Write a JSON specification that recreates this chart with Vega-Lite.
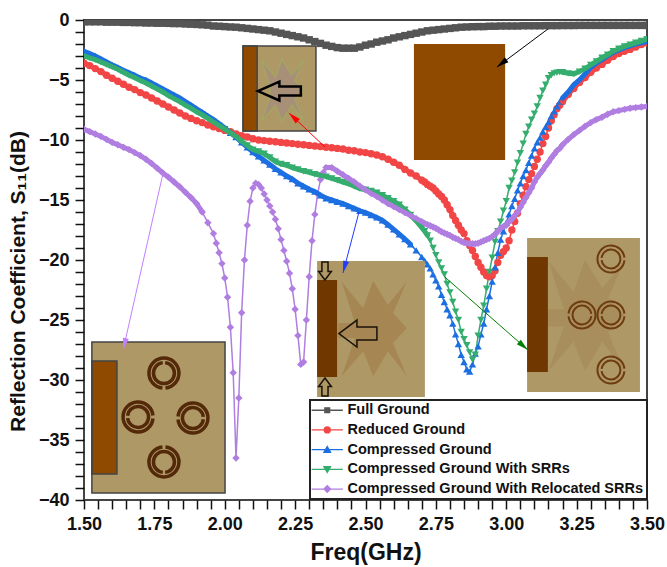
{
"$schema":"https://vega.github.io/schema/vega-lite/v6.json",
"width":563,"height":480,
"autosize":{"type":"none"},
"padding":{"left":84,"top":20,"right":20,"bottom":67},
"background":"white",
"config":{"view":{"stroke":"#444444","strokeWidth":2},"font":"Liberation Sans"},
"datasets":{
"names":[{"k":"A","name":"Full Ground"},{"k":"B","name":"Reduced Ground"},{"k":"C","name":"Compressed Ground"},{"k":"D","name":"Compressed Ground With SRRs"},{"k":"E","name":"Compressed Ground With Relocated SRRs"}],
"curves":[
{"f":1.50,"A":-0.15,"B":-3.6,"C":-2.6,"D":-3.0,"E":-9.1},
{"f":1.52,"A":-0.15,"B":-3.8,"C":-2.8,"D":-3.15,"E":-9.3},
{"f":1.54,"A":-0.15,"B":-4.05,"C":-3.0,"D":-3.3,"E":-9.5},
{"f":1.56,"A":-0.15,"B":-4.3,"C":-3.25,"D":-3.5,"E":-9.7},
{"f":1.58,"A":-0.18,"B":-4.6,"C":-3.5,"D":-3.7,"E":-9.95},
{"f":1.60,"A":-0.18,"B":-4.85,"C":-3.75,"D":-3.9,"E":-10.2},
{"f":1.62,"A":-0.18,"B":-5.1,"C":-3.95,"D":-4.1,"E":-10.4},
{"f":1.64,"A":-0.2,"B":-5.35,"C":-4.2,"D":-4.35,"E":-10.6},
{"f":1.66,"A":-0.2,"B":-5.6,"C":-4.4,"D":-4.6,"E":-10.8},
{"f":1.68,"A":-0.22,"B":-5.8,"C":-4.6,"D":-4.8,"E":-11.05},
{"f":1.70,"A":-0.22,"B":-6.05,"C":-4.85,"D":-5.05,"E":-11.3},
{"f":1.72,"A":-0.25,"B":-6.25,"C":-5.0,"D":-5.25,"E":-11.6},
{"f":1.74,"A":-0.25,"B":-6.5,"C":-5.25,"D":-5.5,"E":-11.95},
{"f":1.76,"A":-0.27,"B":-6.75,"C":-5.5,"D":-5.75,"E":-12.35},
{"f":1.78,"A":-0.27,"B":-7.0,"C":-5.75,"D":-6.0,"E":-12.75},
{"f":1.80,"A":-0.28,"B":-7.25,"C":-6.0,"D":-6.3,"E":-13.1},
{"f":1.82,"A":-0.3,"B":-7.5,"C":-6.25,"D":-6.55,"E":-13.5},
{"f":1.84,"A":-0.3,"B":-7.75,"C":-6.5,"D":-6.8,"E":-13.9},
{"f":1.86,"A":-0.33,"B":-8.0,"C":-6.8,"D":-7.1,"E":-14.35},
{"f":1.88,"A":-0.35,"B":-8.2,"C":-7.1,"D":-7.35,"E":-14.8},
{"f":1.90,"A":-0.37,"B":-8.4,"C":-7.4,"D":-7.65,"E":-15.3},
{"f":1.92,"A":-0.4,"B":-8.55,"C":-7.7,"D":-7.9,"E":-16.0},
{"f":1.94,"A":-0.43,"B":-8.75,"C":-8.0,"D":-8.2,"E":-16.9},
{"f":1.96,"A":-0.5,"B":-8.9,"C":-8.3,"D":-8.5,"E":-17.8},
{"f":1.97,"E":-18.6},
{"f":1.98,"A":-0.52,"B":-9.05,"C":-8.65,"D":-8.8,"E":-19.4},
{"f":1.99,"E":-20.3},
{"f":2.00,"A":-0.55,"B":-9.2,"C":-9.0,"D":-9.1,"E":-21.5},
{"f":2.01,"E":-23.1},
{"f":2.02,"A":-0.58,"B":-9.3,"C":-9.4,"D":-9.4,"E":-25.6},
{"f":2.03,"E":-29.4},
{"f":2.04,"A":-0.6,"B":-9.5,"C":-9.75,"D":-9.7,"E":-36.5},
{"f":2.05,"E":-31.5},
{"f":2.06,"A":-0.65,"B":-9.65,"C":-10.2,"D":-10.1,"E":-24.4},
{"f":2.07,"E":-20},
{"f":2.08,"A":-0.7,"B":-9.75,"C":-10.6,"D":-10.45,"E":-17.1},
{"f":2.09,"E":-15.1},
{"f":2.10,"A":-0.75,"B":-9.9,"C":-11,"D":-10.8,"E":-14.0},
{"f":2.11,"E":-13.6},
{"f":2.12,"A":-0.8,"B":-10,"C":-11.35,"D":-10.95,"E":-13.7},
{"f":2.13,"E":-14.0},
{"f":2.14,"A":-0.85,"B":-10.05,"C":-11.7,"D":-11.15,"E":-14.5},
{"f":2.15,"E":-15},
{"f":2.16,"A":-0.9,"B":-10.1,"C":-12.05,"D":-11.45,"E":-15.5},
{"f":2.17,"E":-16},
{"f":2.18,"A":-1,"B":-10.15,"C":-12.4,"D":-11.8,"E":-16.6},
{"f":2.19,"E":-17.4},
{"f":2.20,"A":-1.1,"B":-10.2,"C":-12.7,"D":-12,"E":-18.3},
{"f":2.21,"E":-19.2},
{"f":2.22,"A":-1.2,"B":-10.25,"C":-13,"D":-12.1,"E":-20.1},
{"f":2.23,"E":-21.1},
{"f":2.24,"A":-1.3,"B":-10.3,"C":-13.25,"D":-12.3,"E":-22.4},
{"f":2.25,"E":-24.1},
{"f":2.26,"A":-1.4,"B":-10.35,"C":-13.6,"D":-12.45,"E":-26.3},
{"f":2.27,"E":-28.7},
{"f":2.28,"A":-1.5,"B":-10.4,"C":-13.85,"D":-12.6,"E":-28.5},
{"f":2.29,"E":-25},
{"f":2.30,"A":-1.65,"B":-10.45,"C":-14.1,"D":-12.7,"E":-21.4},
{"f":2.31,"E":-18.4},
{"f":2.32,"A":-1.8,"B":-10.5,"C":-14.3,"D":-12.85,"E":-16.2},
{"f":2.33,"E":-14.5},
{"f":2.34,"A":-1.95,"B":-10.55,"C":-14.6,"D":-12.95,"E":-13.3},
{"f":2.35,"E":-12.7},
{"f":2.36,"A":-2.1,"B":-10.6,"C":-14.85,"D":-13.05,"E":-12.3},
{"f":2.38,"A":-2.2,"B":-10.65,"C":-15,"D":-13.2,"E":-12.3},
{"f":2.40,"A":-2.3,"B":-10.7,"C":-15.15,"D":-13.35,"E":-12.6},
{"f":2.42,"A":-2.35,"B":-10.75,"C":-15.3,"D":-13.5,"E":-12.9},
{"f":2.44,"A":-2.35,"B":-10.85,"C":-15.5,"D":-13.65,"E":-13.2},
{"f":2.46,"A":-2.35,"B":-10.9,"C":-15.7,"D":-13.85,"E":-13.5},
{"f":2.48,"A":-2.25,"B":-11,"C":-15.9,"D":-14.05,"E":-13.85},
{"f":2.50,"A":-2.1,"B":-11.05,"C":-16.05,"D":-14.15,"E":-14.15},
{"f":2.52,"A":-2,"B":-11.15,"C":-16.25,"D":-14.25,"E":-14.45},
{"f":2.54,"A":-1.85,"B":-11.25,"C":-16.45,"D":-14.4,"E":-14.7},
{"f":2.56,"A":-1.75,"B":-11.4,"C":-16.7,"D":-14.6,"E":-15},
{"f":2.58,"A":-1.65,"B":-11.6,"C":-17.05,"D":-14.85,"E":-15.3},
{"f":2.60,"A":-1.5,"B":-11.85,"C":-17.45,"D":-15.1,"E":-15.55},
{"f":2.62,"A":-1.4,"B":-12.1,"C":-17.85,"D":-15.4,"E":-15.8},
{"f":2.64,"A":-1.3,"B":-12.45,"C":-18.25,"D":-15.8,"E":-16.05},
{"f":2.66,"A":-1.2,"B":-12.75,"C":-18.7,"D":-16.25,"E":-16.3},
{"f":2.68,"A":-1.1,"B":-13,"C":-19.2,"D":-16.75,"E":-16.55},
{"f":2.70,"A":-1,"B":-13.35,"C":-19.75,"D":-17.3,"E":-16.8},
{"f":2.71,"B":-13.5,"C":-20.05,"D":-17.6,"E":-16.95},
{"f":2.72,"A":-0.9,"B":-13.7,"C":-20.35,"D":-17.95,"E":-17.05},
{"f":2.73,"B":-13.85,"C":-20.7,"D":-18.4,"E":-17.15},
{"f":2.74,"A":-0.85,"B":-14,"C":-21.2,"D":-19,"E":-17.25},
{"f":2.75,"B":-14.25,"C":-21.7,"D":-19.6,"E":-17.35},
{"f":2.76,"A":-0.8,"B":-14.5,"C":-22.2,"D":-20.2,"E":-17.5},
{"f":2.77,"B":-14.7,"C":-22.9,"D":-20.7,"E":-17.65},
{"f":2.78,"A":-0.75,"B":-15,"C":-23.5,"D":-21.2,"E":-17.75},
{"f":2.79,"B":-15.4,"C":-24.1,"D":-22,"E":-17.85},
{"f":2.80,"A":-0.7,"B":-15.8,"C":-24.6,"D":-22.7,"E":-17.95},
{"f":2.81,"B":-16.3,"C":-25.3,"D":-23.5,"E":-18.1},
{"f":2.82,"A":-0.65,"B":-16.7,"C":-26.2,"D":-24.3,"E":-18.2},
{"f":2.83,"B":-17.1,"C":-27,"D":-25,"E":-18.3},
{"f":2.84,"A":-0.6,"B":-17.5,"C":-27.9,"D":-26,"E":-18.45},
{"f":2.85,"B":-17.8,"C":-28.5,"D":-26.6,"E":-18.55},
{"f":2.86,"A":-0.58,"B":-18.4,"C":-29.1,"D":-27.1,"E":-18.6},
{"f":2.87,"B":-18.8,"C":-29.3,"D":-27.7,"E":-18.65},
{"f":2.88,"A":-0.56,"B":-19.2,"C":-28.7,"D":-28.3,"E":-18.65},
{"f":2.89,"B":-19.7,"C":-27.8,"D":-27.9,"E":-18.65},
{"f":2.90,"A":-0.55,"B":-20.2,"C":-27.2,"D":-26.3,"E":-18.6},
{"f":2.91,"B":-20.6,"C":-26.2,"D":-25,"E":-18.5},
{"f":2.92,"A":-0.55,"B":-21,"C":-25.3,"D":-23.8,"E":-18.4},
{"f":2.93,"B":-21.3,"C":-24.1,"D":-22.4,"E":-18.3},
{"f":2.94,"A":-0.52,"B":-21.4,"C":-23,"D":-21,"E":-18.2},
{"f":2.95,"B":-21.3,"C":-21.8,"D":-19.8,"E":-18.05},
{"f":2.96,"A":-0.52,"B":-20.9,"C":-20.6,"D":-18.5,"E":-17.85},
{"f":2.97,"B":-20.2,"C":-19.4,"D":-17.6,"E":-17.6},
{"f":2.98,"A":-0.5,"B":-19.6,"C":-18.3,"D":-16.8,"E":-17.35},
{"f":2.99,"B":-19.3,"C":-17.6,"D":-15.9,"E":-17.2},
{"f":3.00,"A":-0.5,"B":-19,"C":-16.9,"D":-15.1,"E":-17.1},
{"f":3.01,"B":-18.4,"C":-16.2,"D":-14,"E":-16.8},
{"f":3.02,"A":-0.5,"B":-17.5,"C":-15.5,"D":-13.4,"E":-16.6},
{"f":3.03,"B":-16.8,"C":-14.9,"D":-12.7,"E":-16.3},
{"f":3.04,"A":-0.5,"B":-16.1,"C":-14.2,"D":-11.9,"E":-16.05},
{"f":3.05,"B":-15.3,"C":-13.6,"D":-11.1,"E":-15.6},
{"f":3.06,"A":-0.48,"B":-14.6,"C":-13,"D":-10.3,"E":-15.2},
{"f":3.07,"B":-13.9,"C":-12.5,"D":-9.5,"E":-14.8},
{"f":3.08,"A":-0.48,"B":-13.3,"C":-11.9,"D":-8.9,"E":-14.4},
{"f":3.09,"B":-12.8,"C":-11.3,"D":-8.3,"E":-14},
{"f":3.10,"A":-0.48,"B":-12.2,"C":-10.7,"D":-7.8,"E":-13.5},
{"f":3.11,"B":-11.6,"C":-10.2,"D":-7.2,"E":-13.1},
{"f":3.12,"A":-0.48,"B":-11,"C":-9.8,"D":-6.5,"E":-12.8},
{"f":3.13,"B":-10.3,"C":-9.3,"D":-5.9,"E":-12.5},
{"f":3.14,"A":-0.47,"B":-9.7,"C":-8.9,"D":-5.4,"E":-12.15},
{"f":3.15,"B":-9,"C":-8.5,"D":-4.85,"E":-11.85},
{"f":3.16,"A":-0.47,"B":-8.4,"C":-8,"D":-4.6,"E":-11.5},
{"f":3.17,"B":-7.9,"C":-7.6,"D":-4.45,"E":-11.2},
{"f":3.18,"A":-0.47,"B":-7.4,"C":-7.2,"D":-4.4,"E":-10.9},
{"f":3.19,"B":-7.1,"C":-6.8,"D":-4.35,"E":-10.7},
{"f":3.20,"A":-0.46,"B":-6.8,"C":-6.5,"D":-4.35,"E":-10.4},
{"f":3.22,"A":-0.46,"B":-6.2,"C":-6,"D":-4.45,"E":-9.95},
{"f":3.24,"A":-0.46,"B":-5.7,"C":-5.4,"D":-4.5,"E":-9.55},
{"f":3.26,"A":-0.45,"B":-5.2,"C":-5,"D":-4.3,"E":-9.2},
{"f":3.28,"A":-0.45,"B":-4.8,"C":-4.5,"D":-4.05,"E":-8.85},
{"f":3.30,"A":-0.45,"B":-4.35,"C":-3.95,"D":-3.75,"E":-8.55},
{"f":3.32,"A":-0.45,"B":-4,"C":-3.6,"D":-3.45,"E":-8.3},
{"f":3.34,"A":-0.45,"B":-3.7,"C":-3.3,"D":-3.15,"E":-8.1},
{"f":3.36,"A":-0.45,"B":-3.35,"C":-3,"D":-2.9,"E":-7.85},
{"f":3.38,"A":-0.45,"B":-3.05,"C":-2.7,"D":-2.6,"E":-7.65},
{"f":3.40,"A":-0.45,"B":-2.8,"C":-2.5,"D":-2.4,"E":-7.55},
{"f":3.42,"A":-0.45,"B":-2.6,"C":-2.3,"D":-2.2,"E":-7.45},
{"f":3.44,"A":-0.45,"B":-2.45,"C":-2.15,"D":-2.05,"E":-7.35},
{"f":3.46,"A":-0.45,"B":-2.25,"C":-2,"D":-1.9,"E":-7.3},
{"f":3.48,"A":-0.45,"B":-2.05,"C":-1.9,"D":-1.75,"E":-7.25},
{"f":3.50,"A":-0.45,"B":-1.9,"C":-1.8,"D":-1.6,"E":-7.2}
],
"boards":[
{"f":1.528,"f2":2.001,"v":-26.83,"v2":-39.42},
{"f":2.065,"f2":2.324,"v":-2.17,"v2":-9.25},
{"f":2.328,"f2":2.711,"v":-20.08,"v2":-31.42},
{"f":3.074,"f2":3.475,"v":-18.17,"v2":-31}
],
"patches":[
{"f":1.528,"f2":1.617,"v":-28.42,"v2":-37.83},
{"f":2.065,"f2":2.115,"v":-2.17,"v2":-9.25},
{"f":2.672,"f2":2.996,"v":-2,"v2":-11.67}
],
"darkpatches":[
{"f":2.328,"f2":2.399,"v":-21.67,"v2":-29.75},
{"f":3.074,"f2":3.148,"v":-19.75,"v2":-29.33}
],
"callouts":[
{"to":"A","f":3.148,"v":-0.75,"f2":2.967,"v2":-3.92,"a":233},
{"to":"B","f":2.356,"v":-10.58,"f2":2.228,"v2":-7.75,"a":313},
{"to":"C","f":2.477,"v":-16,"f2":2.42,"v2":-21.08,"a":195},
{"to":"D","f":2.782,"v":-21.42,"f2":3.077,"v2":-27.5,"a":131},
{"to":"E","f":1.781,"v":-12.75,"f2":1.639,"v2":-27.5,"a":193}
]
},
"encoding":{
"x":{"field":"f","type":"quantitative","title":"Freq(GHz)",
 "scale":{"domain":[1.5,3.5],"nice":false,"zero":false},
 "axis":{"orient":"bottom","grid":false,"domain":false,"tickColor":"#111111","tickWidth":1.5,
  "values":[1.5,1.55,1.6,1.65,1.7,1.75,1.8,1.85,1.9,1.95,2,2.05,2.1,2.15,2.2,2.25,2.3,2.35,2.4,2.45,2.5,2.55,2.6,2.65,2.7,2.75,2.8,2.85,2.9,2.95,3,3.05,3.1,3.15,3.2,3.25,3.3,3.35,3.4,3.45,3.5],
  "labelExpr":"abs(round(datum.value*100)%25)==0?format(datum.value,'.2f'):''",
  "labelFont":"Liberation Sans","labelFontWeight":"bold","labelFontSize":18,"labelColor":"#111111","labelOverlap":false,"labelPadding":6,"labelFlush":false,
  "titleFont":"Liberation Sans","titleFontWeight":"bold","titleFontSize":23,"titleColor":"#111111","titlePadding":8,
  "tickSize":9,
  "encode":{"ticks":{"update":{"y2":{"signal":"abs(round(datum.value*100)%25)==0?9:5"}}}}}},
"y":{"field":"v","type":"quantitative","title":"Reflection Coefficient, S₁₁(dB)",
 "scale":{"domain":[-40,0],"nice":false,"zero":false},
 "axis":{"orient":"left","grid":false,"domain":false,"tickColor":"#111111","tickWidth":1.5,
  "values":[0,-1,-2,-3,-4,-5,-6,-7,-8,-9,-10,-11,-12,-13,-14,-15,-16,-17,-18,-19,-20,-21,-22,-23,-24,-25,-26,-27,-28,-29,-30,-31,-32,-33,-34,-35,-36,-37,-38,-39,-40],
  "labelExpr":"abs(round(datum.value)%5)==0?format(datum.value,'d'):''",
  "labelFont":"Liberation Sans","labelFontWeight":"bold","labelFontSize":18,"labelColor":"#111111","labelOverlap":false,"labelPadding":6,"labelFlush":false,
  "titleFont":"Liberation Sans","titleFontWeight":"bold","titleFontSize":21,"titleColor":"#111111","titlePadding":10,"titleY":261,
  "tickSize":9,
  "encode":{"ticks":{"update":{"x2":{"signal":"abs(round(datum.value)%5)==0?-9:-5"}}}}}}
},
"layer":[
{"data":{"name":"curves"},
 "transform":[{"fold":["A","B","C","D","E"],"as":["k","v"]},{"filter":"isValid(datum.v)"},{"lookup":"k","from":{"data":{"name":"names"},"key":"k","fields":["name"]}}],
 "mark":{"type":"line","strokeWidth":1.5,"clip":true},
 "encoding":{"color":{"field":"name","type":"nominal","title":null,
   "scale":{"domain":["Full Ground","Reduced Ground","Compressed Ground","Compressed Ground With SRRs","Compressed Ground With Relocated SRRs"],"range":["#555555","#f24646","#1c6fe0","#34ad6e","#b07de0"]},
   "legend":{"orient":"none","legendX":226,"legendY":380,"symbolSize":36,"symbolOffset":7,"padding":3,"rowPadding":4.7,"labelOffset":13,"labelLimit":400,"labelFont":"Liberation Sans","labelFontWeight":"bold","labelFontSize":14.5,"labelColor":"#111111","fillColor":"white","strokeColor":"#222222","symbolStrokeWidth":1.3,
    "encode":{"legend":{"update":{"strokeWidth":{"value":2}}},
     "symbols":{"update":{"fill":{"scale":"color","field":"value"},"stroke":{"scale":"color","field":"value"},"opacity":{"value":1},
      "shape":{"signal":"datum.value==='Full Ground'?'M-5.2,0H5.2M-0.8,-0.8H0.8V0.8H-0.8Z':datum.value==='Reduced Ground'?'M-5.2,0H5.2M-1,0A1,1 0 1 0 1,0A1,1 0 1 0 -1,0Z':datum.value==='Compressed Ground'?'M-5.2,0H5.2M-1.1,0.9L1.1,0.9L0,-1Z':datum.value==='Compressed Ground With SRRs'?'M-5.2,0H5.2M-1.1,-0.9L1.1,-0.9L0,1Z':'M-5.2,0H5.2M-1.1,0L0,-1.1L1.1,0L0,1.1Z'"}}}}}}}},
{"data":{"name":"curves"},
 "transform":[{"fold":["A","B","C","D","E"],"as":["k","v"]},{"filter":"isValid(datum.v)"},{"lookup":"k","from":{"data":{"name":"names"},"key":"k","fields":["name"]}}],
 "mark":{"type":"point","filled":true,"size":55,"opacity":1,"clip":true},
 "encoding":{"color":{"field":"name","type":"nominal","title":null},
  "shape":{"field":"k","type":"nominal","legend":null,"scale":{"domain":["A","B","C","D","E"],"range":["square","circle","triangle-up","triangle-down","diamond"]}},
  "order":{"field":"k","sort":"ascending"}}},
{"data":{"name":"curves"},
 "transform":[{"fold":["A","B","C","D","E"],"as":["k","v"]},{"filter":"isValid(datum.v)"},{"filter":"datum.k==='A'||(datum.k==='B'&&(datum.f<=2.84||datum.f>=3.2))||(datum.k==='C'&&(datum.f<=2.66||datum.f>=3.2))||(datum.k==='D'&&(datum.f<=2.72||datum.f>=3.2))||(datum.k==='E'&&(datum.f<=1.92||datum.f>=2.36))"},{"calculate":"datum.k==='E'?datum.f>2.2:datum.f>2.9","as":"seg"},{"lookup":"k","from":{"data":{"name":"names"},"key":"k","fields":["name"]}}],
 "mark":{"type":"line","strokeWidth":5,"strokeCap":"round","clip":true},
 "encoding":{"color":{"field":"name","type":"nominal","title":null},"detail":{"field":"seg","type":"nominal"}}},
{"data":{"name":"boards"},"mark":{"type":"rect","fill":"#ae9866"},"encoding":{"x2":{"field":"f2"},"y2":{"field":"v2"}}},
{"data":{"values":[{"f":2.203,"v":-5.83}]},"mark":{"type":"point","shape":"M0,-1.43L0.45,-0.7L1.02,-1.4L0.6,-0.45L1.02,0L0.6,0.45L1.02,1.45L0.45,0.7L0,1.45L-0.3,0.7L-0.95,1.45L-0.55,0.3L-0.55,-0.15L-0.95,-1.4L-0.3,-0.6Z","size":1870,"filled":true,"fill":"#a88f78","stroke":"#a3a562","strokeWidth":1.5,"opacity":1}},
{"data":{"values":[{"f":2.527,"v":-25.67}]},"mark":{"type":"point","shape":"M0,-1.43L0.45,-0.7L1.02,-1.4L0.6,-0.45L1.02,0L0.6,0.45L1.02,1.45L0.45,0.7L0,1.45L-0.3,0.7L-0.95,1.45L-0.55,0.3L-1.05,0.3L-1.05,-0.15L-0.55,-0.15L-0.95,-1.4L-0.3,-0.6Z","size":4356,"filled":true,"fill":"#a68652","opacity":1}},
{"data":{"values":[{"f":3.28,"v":-24.58}]},"mark":{"type":"point","shape":"M0,-1.43L0.45,-0.7L1.02,-1.4L0.6,-0.45L1.02,0L0.6,0.45L1.02,1.45L0.45,0.7L0,1.45L-0.3,0.7L-0.95,1.45L-0.55,0.3L-1.05,0.3L-1.05,-0.15L-0.55,-0.15L-0.95,-1.4L-0.3,-0.6Z","size":5900,"filled":true,"fill":"#a88e5c","opacity":1}},
{"data":{"name":"patches"},"mark":{"type":"rect","fill":"#8f4a00"},"encoding":{"x2":{"field":"f2"},"y2":{"field":"v2"}}},
{"data":{"name":"darkpatches"},"mark":{"type":"rect","fill":"#703800"},"encoding":{"x2":{"field":"f2"},"y2":{"field":"v2"}}},
{"data":{"values":[{"f":1.528,"f2":2.001,"v":-26.83,"v2":-39.42},{"f":1.528,"f2":1.617,"v":-28.42,"v2":-37.83},{"f":2.065,"f2":2.324,"v":-2.17,"v2":-9.25},{"f":2.065,"f2":2.115,"v":-2.17,"v2":-9.25}]},"mark":{"type":"rect","fill":null,"fillOpacity":0,"stroke":"#444444","strokeWidth":1.5},"encoding":{"x2":{"field":"f2"},"y2":{"field":"v2"}}},
{"data":{"values":[{"f":1.784,"v":-29.42,"a":0},{"f":1.692,"v":-33.08,"a":270},{"f":1.887,"v":-33.17,"a":90},{"f":1.784,"v":-36.83,"a":180}]},"mark":{"type":"point","shape":"M0.1,0.995A1,1 0 1 0 -0.1,0.995M-0.08,-0.695A0.7,0.7 0 1 0 0.08,-0.695","size":900,"filled":false,"stroke":"#53290a","strokeWidth":3.5,"opacity":1},"encoding":{"angle":{"field":"a","type":"quantitative","scale":null}}},
{"data":{"values":[{"f":3.372,"v":-19.92,"a":270},{"f":3.269,"v":-24.58,"a":90},{"f":3.372,"v":-24.58,"a":270},{"f":3.372,"v":-29.17,"a":270}]},"mark":{"type":"point","shape":"M0.1,0.995A1,1 0 1 0 -0.1,0.995M-0.08,-0.695A0.7,0.7 0 1 0 0.08,-0.695","size":729,"filled":false,"stroke":"#6e3b10","strokeWidth":2,"opacity":1},"encoding":{"angle":{"field":"a","type":"quantitative","scale":null}}},
{"data":{"values":[{"f":2.194,"v":-5.92}]},"mark":{"type":"point","shape":"M-1,0L0,-0.44L0,-0.21L1,-0.21L1,0.21L0,0.21L0,0.44Z","size":1849,"filled":false,"stroke":"#000000","strokeWidth":2.5,"opacity":1}},
{"data":{"values":[{"f":2.473,"v":-26.13}]},"mark":{"type":"point","shape":"M-1,0L-0.05,-0.71L-0.05,-0.34L1,-0.34L1,0.34L-0.05,0.34L-0.05,0.71Z","size":1444,"filled":false,"stroke":"#1a1208","strokeWidth":1.5,"opacity":1}},
{"data":{"values":[{"f":2.356,"v":-20.92,"a":270},{"f":2.356,"v":-30.58,"a":90}]},"mark":{"type":"point","shape":"M-1,0L-0.05,-0.71L-0.05,-0.34L1,-0.34L1,0.34L-0.05,0.34L-0.05,0.71Z","size":324,"filled":false,"stroke":"#1a1208","strokeWidth":1.5,"opacity":1},"encoding":{"angle":{"field":"a","type":"quantitative","scale":null}}},
{"data":{"name":"callouts"},"mark":{"type":"rule","strokeWidth":1},"encoding":{"x2":{"field":"f2"},"y2":{"field":"v2"},"stroke":{"field":"to","type":"nominal","legend":null,"scale":{"domain":["A","B","C","D","E"],"range":["#000000","#ff0000","#1f3cff","#008000","#c080ff"]}}}},
{"data":{"name":"callouts"},"mark":{"type":"point","shape":"M0,0L0.45,1.8L-0.45,1.8Z","size":180,"filled":true,"opacity":1},"encoding":{"x":{"field":"f2","type":"quantitative"},"y":{"field":"v2","type":"quantitative"},"angle":{"field":"a","type":"quantitative","scale":null},"fill":{"field":"to","type":"nominal","legend":null,"scale":{"domain":["A","B","C","D","E"],"range":["#000000","#ff0000","#1f3cff","#008000","#c080ff"]}}}}
]
}
